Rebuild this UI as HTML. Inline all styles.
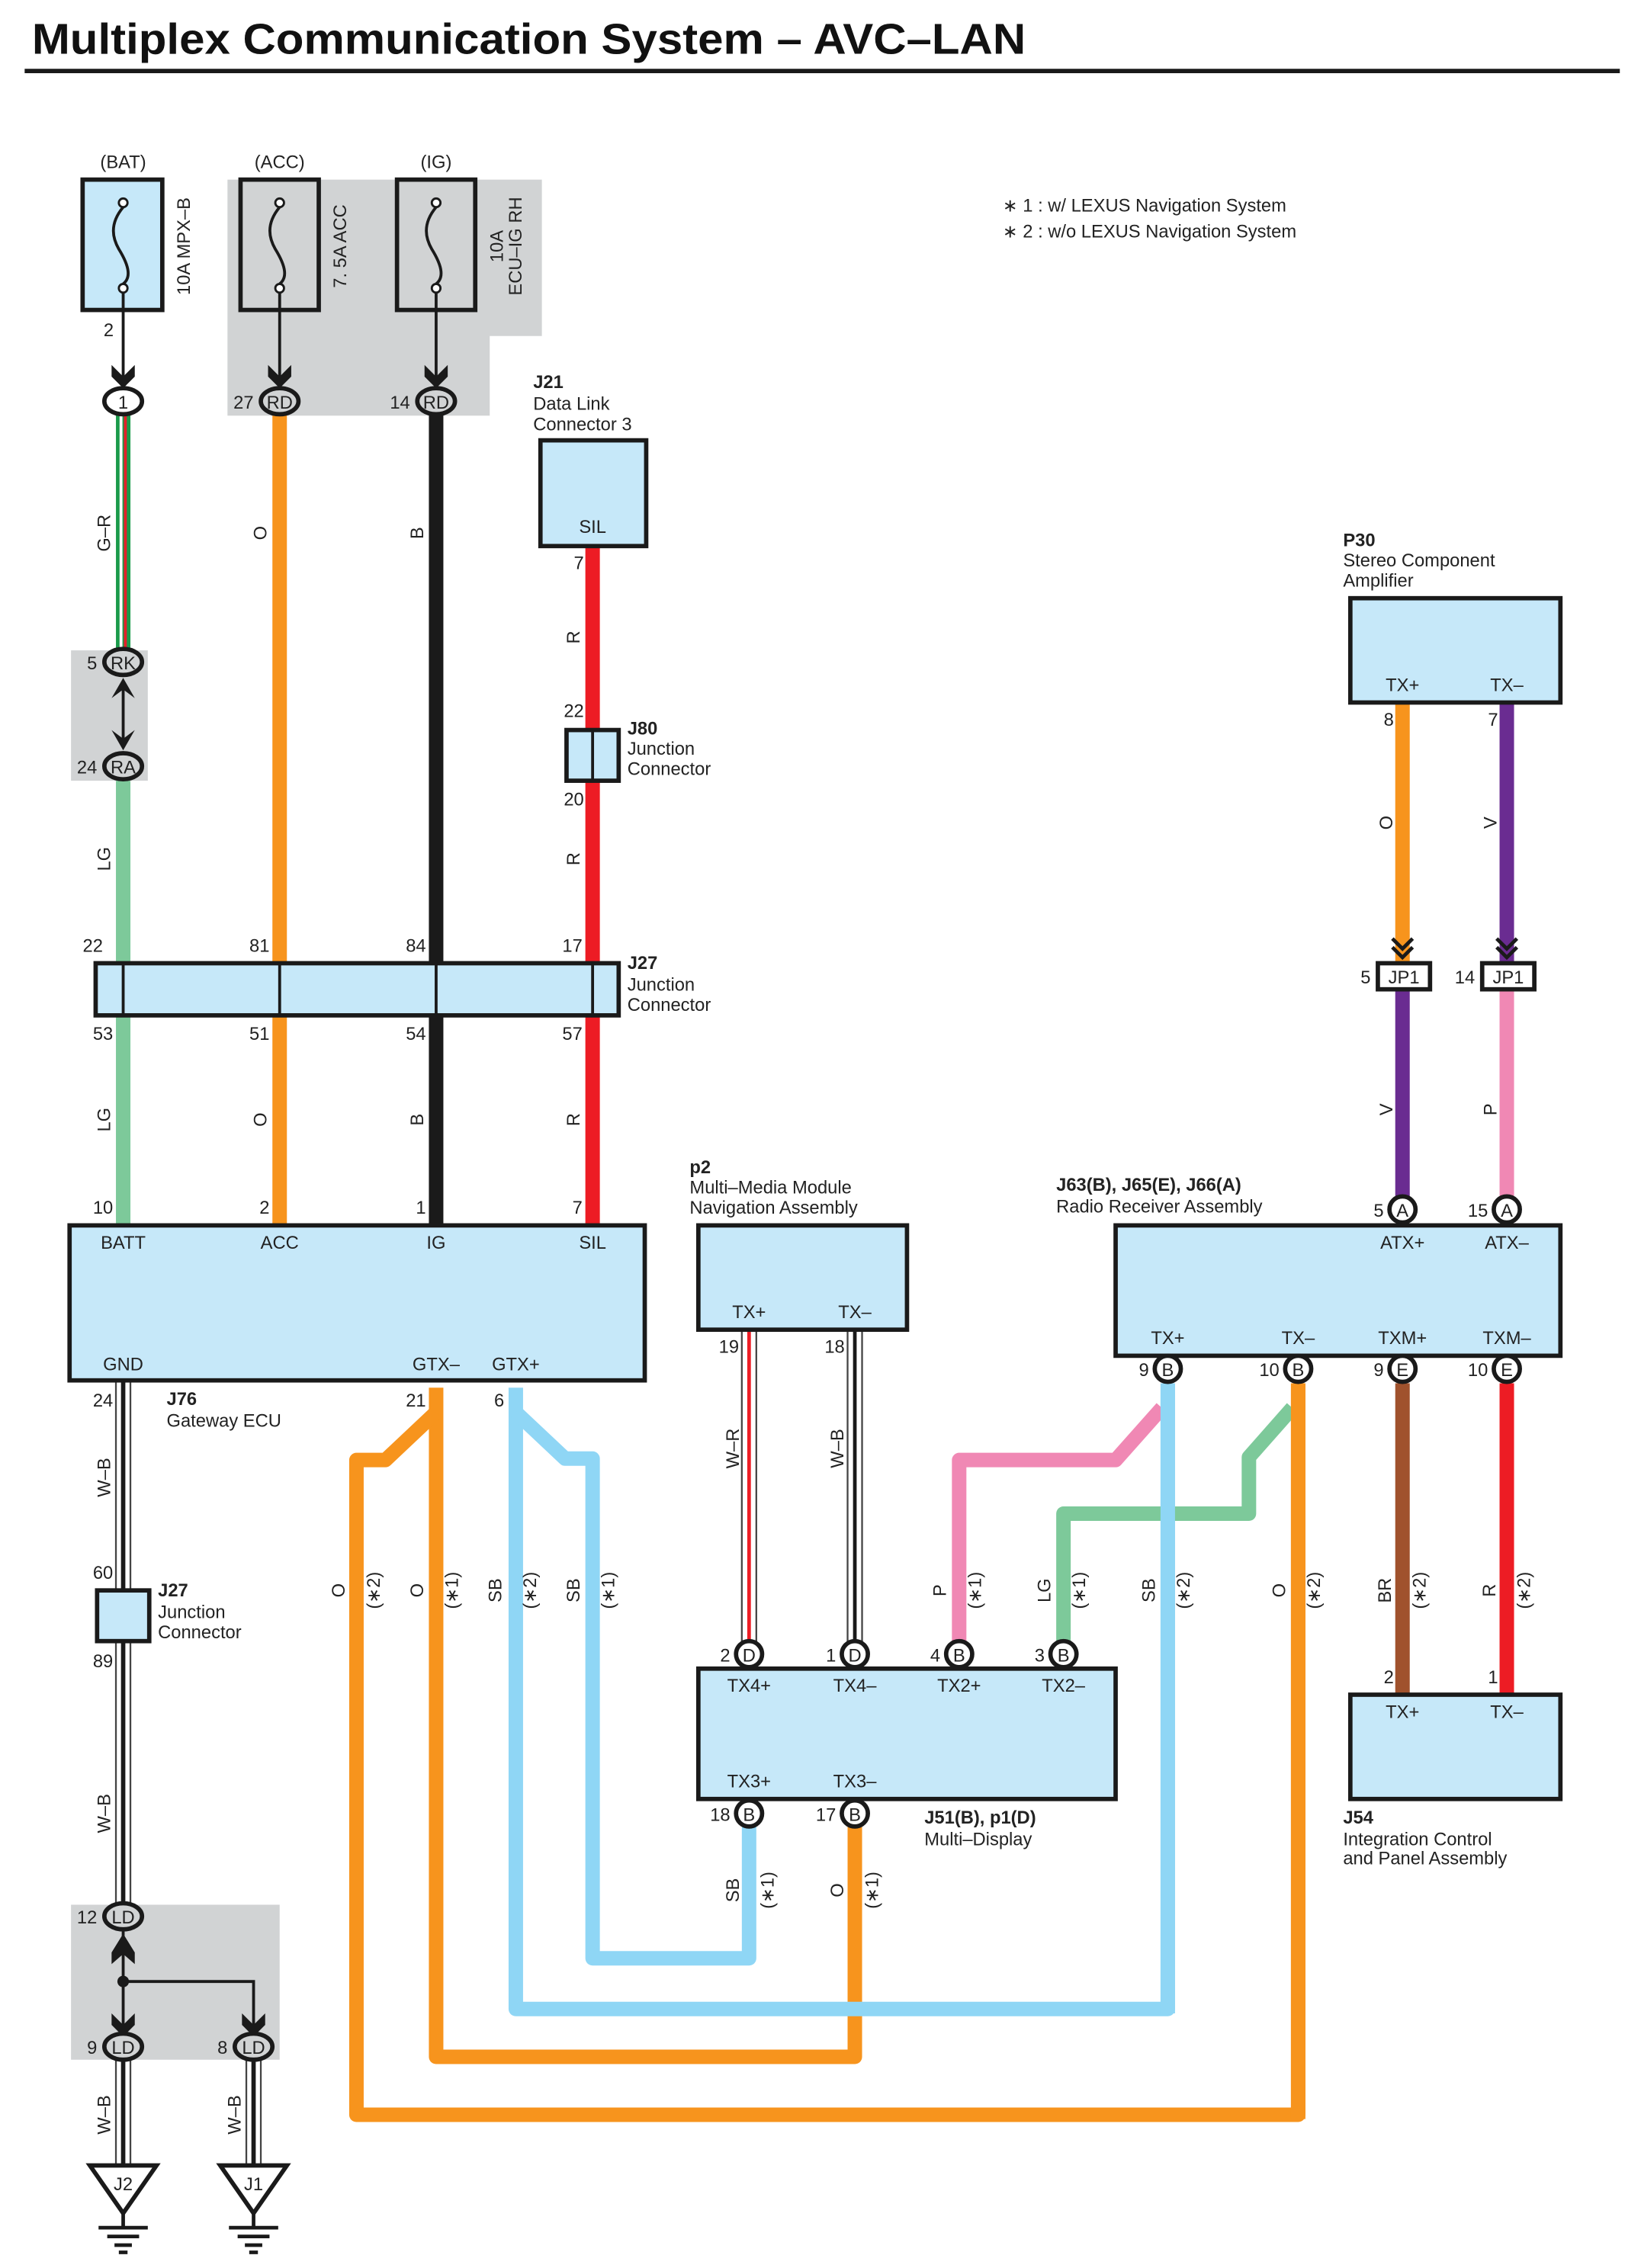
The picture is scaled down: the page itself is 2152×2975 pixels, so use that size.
<!DOCTYPE html>
<html><head><meta charset="utf-8"><style>
html,body{margin:0;padding:0;background:#fff}
svg{display:block}
text{font-family:"Liberation Sans",sans-serif;font-size:12.5px;fill:#222}
.b{font-weight:bold}
.m{text-anchor:middle}
.e{text-anchor:end}
.box{fill:#c6e8f9;stroke:#1a1a1a;stroke-width:3}
.w{fill:none;stroke-width:10;stroke-linejoin:round}
.k{stroke:#1a1a1a;fill:none;stroke-width:2}
</style></head><body>
<svg width="2152" height="2975" viewBox="0 0 1132.6 1565.8" xmlns="http://www.w3.org/2000/svg">
<defs>
<g id="chev"><path d="M-8,-12 L0,-4 L8,-12 L8,-4 L0,4 L-8,-4 Z" fill="#1a1a1a"/></g>
<g id="dchev"><path d="M-7,-12 L0,-5 L7,-12 M-7,-6 L0,1 L7,-6" stroke="#1a1a1a" stroke-width="2.5" fill="none"/></g>
</defs>
<text x="22" y="37" class="b" style="font-size:30px;fill:#111" textLength="686" lengthAdjust="spacingAndGlyphs">Multiplex Communication System – AVC–LAN</text>
<line x1="17" y1="49" x2="1118" y2="49" stroke="#1a1a1a" stroke-width="3"/>
<text x="692" y="146" style="font-size:12.5px">∗ 1 : w/ LEXUS Navigation System</text>
<text x="692" y="164" style="font-size:12.5px">∗ 2 : w/o LEXUS Navigation System</text>

<path d="M157,124 H374 V232 H338 V287 H157 Z" fill="#d1d3d4"/>
<rect x="49" y="449" width="53" height="90" fill="#d1d3d4"/>
<rect x="49" y="1315" width="144" height="107" fill="#d1d3d4"/>

<text x="85" y="116" class="m">(BAT)</text><text x="193" y="116" class="m">(ACC)</text><text x="301" y="116" class="m">(IG)</text>
<rect x="57" y="124" width="55" height="90" class="box"/>
<rect x="166" y="124" width="54" height="90" fill="none" stroke="#1a1a1a" stroke-width="3"/>
<rect x="274" y="124" width="54" height="90" fill="none" stroke="#1a1a1a" stroke-width="3"/>
<g class="k">
<path d="M85,143 C75,155 78,165 82,172 C90,185 90,192 85,196"/>
<path d="M193,143 C183,155 186,165 190,172 C198,185 198,192 193,196"/>
<path d="M301,143 C291,155 294,165 298,172 C306,185 306,192 301,196"/>
<line x1="85" y1="199" x2="85" y2="262"/><line x1="193" y1="199" x2="193" y2="262"/><line x1="301" y1="199" x2="301" y2="262"/>
</g>
<g fill="#fff" stroke="#1a1a1a" stroke-width="1.5"><circle cx="85" cy="140" r="3"/><circle cx="85" cy="199" r="3"/><circle cx="193" cy="140" r="3"/><circle cx="193" cy="199" r="3"/><circle cx="301" cy="140" r="3"/><circle cx="301" cy="199" r="3"/></g>
<use href="#chev" x="85" y="264"/><use href="#chev" x="193" y="264"/><use href="#chev" x="301" y="264"/>
<text transform="translate(131,170) rotate(-90)" class="m">10A MPX–B</text>
<text transform="translate(239,170) rotate(-90)" class="m">7. 5A ACC</text>
<text transform="translate(347,170) rotate(-90)" class="m">10A</text>
<text transform="translate(360,170) rotate(-90)" class="m">ECU–IG RH</text>
<text x="75" y="232" class="m">2</text>

<rect x="80" y="285" width="10" height="166" fill="#1a9a4a"/><rect x="82.5" y="285" width="2" height="166" fill="#fff"/><rect x="85.5" y="285" width="2" height="166" fill="#e5202a"/>
<line x1="85" y1="539" x2="85" y2="846" stroke="#7dc99a" stroke-width="10"/>
<line x1="193" y1="285" x2="193" y2="846" stroke="#f7941d" stroke-width="10"/>
<line x1="301" y1="285" x2="301" y2="846" stroke="#1a1a1a" stroke-width="10"/>
<line x1="409" y1="377" x2="409" y2="846" stroke="#ed1c24" stroke-width="10"/>
<line x1="968" y1="485" x2="968" y2="665" stroke="#f7941d" stroke-width="10"/>
<line x1="1040" y1="485" x2="1040" y2="665" stroke="#6a2c91" stroke-width="10"/>
<line x1="968" y1="683" x2="968" y2="830" stroke="#6a2c91" stroke-width="10"/>
<line x1="1040" y1="683" x2="1040" y2="830" stroke="#f088b4" stroke-width="10"/>
<use href="#dchev" x="968" y="660"/><use href="#dchev" x="1040" y="660"/>

<g stroke="#1a1a1a" stroke-width="3">
<ellipse cx="85" cy="277" rx="13" ry="9" fill="#fff"/>
<ellipse cx="193" cy="277" rx="13" ry="9" fill="#d1d3d4"/>
<ellipse cx="301" cy="277" rx="13" ry="9" fill="#d1d3d4"/>
<ellipse cx="85" cy="457" rx="13" ry="9" fill="#d1d3d4"/>
<ellipse cx="85" cy="529" rx="13" ry="9" fill="#d1d3d4"/>
</g>
<text x="85" y="282" class="m">1</text><text x="193" y="282" class="m">RD</text><text x="301" y="282" class="m">RD</text>
<text x="175" y="282" class="e">27</text><text x="283" y="282" class="e">14</text>
<text x="85" y="462" class="m">RK</text><text x="85" y="534" class="m">RA</text>
<text x="67" y="462" class="e">5</text><text x="67" y="534" class="e">24</text>
<line x1="85" y1="470" x2="85" y2="516" class="k"/>
<path d="M77,482 L85,468 L93,482 L85,476Z M77,504 L85,518 L93,504 L85,510Z" fill="#1a1a1a"/>
<text transform="translate(76,368) rotate(-90)" class="m">G–R</text>
<text transform="translate(76,593) rotate(-90)" class="m">LG</text>
<text transform="translate(184,368) rotate(-90)" class="m">O</text>
<text transform="translate(292,368) rotate(-90)" class="m">B</text>
<text transform="translate(400,440) rotate(-90)" class="m">R</text>
<text transform="translate(400,593) rotate(-90)" class="m">R</text>

<text x="368" y="268" class="b">J21</text><text x="368" y="283">Data Link</text><text x="368" y="297">Connector 3</text>
<rect x="373" y="304" width="73" height="73" class="box"/>
<text x="409" y="368" class="m">SIL</text>
<text x="403" y="393" class="e">7</text><text x="403" y="495" class="e">22</text><text x="403" y="556" class="e">20</text>
<rect x="391" y="504" width="36" height="35" class="box" stroke-width="2.5"/><line x1="409" y1="504" x2="409" y2="539" class="k"/>
<text x="433" y="507" class="b">J80</text><text x="433" y="521">Junction</text><text x="433" y="535">Connector</text>

<text x="71" y="657" class="e">22</text><text x="186" y="657" class="e">81</text><text x="294" y="657" class="e">84</text><text x="402" y="657" class="e">17</text>
<rect x="66" y="665" width="361" height="36" class="box"/>
<g class="k"><line x1="85" y1="665" x2="85" y2="701"/><line x1="193" y1="665" x2="193" y2="701"/><line x1="301" y1="665" x2="301" y2="701"/><line x1="409" y1="665" x2="409" y2="701"/></g>
<text x="433" y="669" class="b">J27</text><text x="433" y="684">Junction</text><text x="433" y="698">Connector</text>
<text x="78" y="718" class="e">53</text><text x="186" y="718" class="e">51</text><text x="294" y="718" class="e">54</text><text x="402" y="718" class="e">57</text>
<text transform="translate(76,773) rotate(-90)" class="m">LG</text>
<text transform="translate(184,773) rotate(-90)" class="m">O</text>
<text transform="translate(292,773) rotate(-90)" class="m">B</text>
<text transform="translate(400,773) rotate(-90)" class="m">R</text>
<text x="78" y="838" class="e">10</text><text x="186" y="838" class="e">2</text><text x="294" y="838" class="e">1</text><text x="402" y="838" class="e">7</text>

<path class="w" stroke="#f7941d" d="M301,958 V1420 H590 V1258"/>
<path class="w" stroke="#f7941d" d="M301,975 L266,1008 H246 V1460 H896 V955"/>
<path class="w" stroke="#8fd6f5" d="M356,958 V1387 H806 V955"/>
<path class="w" stroke="#8fd6f5" d="M356,975 L390,1007 H409 V1352 H517 V1258"/>
<path class="w" stroke="#f088b4" d="M802,972 L770,1008 H662 V1135"/>
<path class="w" stroke="#7dc99a" d="M892,972 L862,1006 V1045 H734 V1135"/>
<line x1="806" y1="955" x2="806" y2="1390" stroke="#8fd6f5" stroke-width="10"/>
<line x1="896" y1="955" x2="896" y2="1463" stroke="#f7941d" stroke-width="10"/>
<line x1="968" y1="955" x2="968" y2="1170" stroke="#a0522d" stroke-width="10"/>
<line x1="1040" y1="955" x2="1040" y2="1170" stroke="#ed1c24" stroke-width="10"/>
<g stroke-width="1.2" stroke="#444">
<line x1="512" y1="918" x2="512" y2="1135"/><line x1="522" y1="918" x2="522" y2="1135"/>
<line x1="585" y1="918" x2="585" y2="1135"/><line x1="595" y1="918" x2="595" y2="1135"/>
<line x1="80" y1="953" x2="80" y2="1315"/><line x1="90" y1="953" x2="90" y2="1315"/>
<line x1="80" y1="1422" x2="80" y2="1495"/><line x1="90" y1="1422" x2="90" y2="1495"/>
<line x1="170" y1="1422" x2="170" y2="1495"/><line x1="180" y1="1422" x2="180" y2="1495"/>
</g>
<line x1="517" y1="918" x2="517" y2="1135" stroke="#ed1c24" stroke-width="2.5"/>
<line x1="590" y1="918" x2="590" y2="1135" stroke="#1a1a1a" stroke-width="2.5"/>
<line x1="85" y1="953" x2="85" y2="1315" stroke="#1a1a1a" stroke-width="3"/>
<line x1="85" y1="1422" x2="85" y2="1495" stroke="#1a1a1a" stroke-width="3"/>
<line x1="175" y1="1422" x2="175" y2="1495" stroke="#1a1a1a" stroke-width="3"/>

<rect x="48" y="846" width="397" height="107" class="box"/>
<text x="85" y="862" class="m">BATT</text><text x="193" y="862" class="m">ACC</text><text x="301" y="862" class="m">IG</text><text x="409" y="862" class="m">SIL</text>
<text x="85" y="946" class="m">GND</text><text x="301" y="946" class="m">GTX–</text><text x="356" y="946" class="m">GTX+</text>
<text x="78" y="971" class="e">24</text><text x="294" y="971" class="e">21</text><text x="348" y="971" class="e">6</text>
<text x="115" y="970" class="b">J76</text><text x="115" y="985">Gateway ECU</text>
<text transform="translate(76,1020) rotate(-90)" class="m">W–B</text>
<text x="78" y="1090" class="e">60</text><text x="78" y="1151" class="e">89</text>
<rect x="67" y="1098" width="36" height="35" class="box" stroke-width="2.5"/>
<text x="109" y="1102" class="b">J27</text><text x="109" y="1117">Junction</text><text x="109" y="1131">Connector</text>
<text transform="translate(76,1252) rotate(-90)" class="m">W–B</text>

<line x1="85" y1="1333" x2="85" y2="1403" class="k"/>
<path d="M85,1368 H175 V1403" class="k"/>
<circle cx="85" cy="1368" r="4" fill="#1a1a1a"/>
<path d="M77,1348 L85,1335 L93,1348 L93,1356 L85,1349 L77,1356Z" fill="#1a1a1a"/>
<use href="#chev" x="85" y="1402"/><use href="#chev" x="175" y="1402"/>
<g stroke="#1a1a1a" stroke-width="3" fill="#d1d3d4">
<ellipse cx="85" cy="1323" rx="13" ry="9"/><ellipse cx="85" cy="1413" rx="13" ry="9"/><ellipse cx="175" cy="1413" rx="13" ry="9"/></g>
<text x="85" y="1328" class="m">LD</text><text x="85" y="1418" class="m">LD</text><text x="175" y="1418" class="m">LD</text>
<text x="67" y="1328" class="e">12</text><text x="67" y="1418" class="e">9</text><text x="157" y="1418" class="e">8</text>
<text transform="translate(76,1460) rotate(-90)" class="m">W–B</text>
<text transform="translate(166,1460) rotate(-90)" class="m">W–B</text>
<g stroke="#1a1a1a" stroke-width="3" fill="#fff" stroke-linejoin="miter">
<path d="M62,1495 H108 L85,1528 Z"/><path d="M152,1495 H198 L175,1528 Z"/></g>
<text x="85" y="1512" class="m">J2</text><text x="175" y="1512" class="m">J1</text>
<g stroke="#1a1a1a" stroke-width="2.5">
<line x1="85" y1="1528" x2="85" y2="1538"/><line x1="68" y1="1538" x2="102" y2="1538"/><line x1="74" y1="1544" x2="96" y2="1544"/><line x1="79" y1="1550" x2="91" y2="1550"/><line x1="82" y1="1555" x2="88" y2="1555"/>
<line x1="175" y1="1528" x2="175" y2="1538"/><line x1="158" y1="1538" x2="192" y2="1538"/><line x1="164" y1="1544" x2="186" y2="1544"/><line x1="169" y1="1550" x2="181" y2="1550"/><line x1="172" y1="1555" x2="178" y2="1555"/>
</g>

<text x="476" y="810" class="b">p2</text><text x="476" y="824">Multi–Media Module</text><text x="476" y="838">Navigation Assembly</text>
<rect x="482" y="846" width="144" height="72" class="box"/>
<text x="517" y="910" class="m">TX+</text><text x="590" y="910" class="m">TX–</text>
<text x="510" y="934" class="e">19</text><text x="583" y="934" class="e">18</text>
<text transform="translate(510,1000) rotate(-90)" class="m">W–R</text>
<text transform="translate(582,1000) rotate(-90)" class="m">W–B</text>

<text x="927" y="377" class="b">P30</text><text x="927" y="391">Stereo Component</text><text x="927" y="405">Amplifier</text>
<rect x="932" y="413" width="145" height="72" class="box"/>
<text x="968" y="477" class="m">TX+</text><text x="1040" y="477" class="m">TX–</text>
<text x="962" y="501" class="e">8</text><text x="1034" y="501" class="e">7</text>
<text transform="translate(961,568) rotate(-90)" class="m">O</text>
<text transform="translate(1033,568) rotate(-90)" class="m">V</text>
<rect x="951" y="665" width="36" height="18" fill="#fff" stroke="#1a1a1a" stroke-width="3"/>
<rect x="1023" y="665" width="36" height="18" fill="#fff" stroke="#1a1a1a" stroke-width="3"/>
<text x="969" y="679" class="m">JP1</text><text x="1041" y="679" class="m">JP1</text>
<text x="946" y="679" class="e">5</text><text x="1018" y="679" class="e">14</text>
<text transform="translate(961,766) rotate(-90)" class="m">V</text>
<text transform="translate(1033,766) rotate(-90)" class="m">P</text>

<text x="729" y="822" class="b">J63(B), J65(E), J66(A)</text><text x="729" y="837">Radio Receiver Assembly</text>
<rect x="770" y="846" width="307" height="90" class="box"/>
<text x="968" y="862" class="m">ATX+</text><text x="1040" y="862" class="m">ATX–</text>
<text x="806" y="928" class="m">TX+</text><text x="896" y="928" class="m">TX–</text><text x="968" y="928" class="m">TXM+</text><text x="1040" y="928" class="m">TXM–</text>

<rect x="482" y="1152" width="288" height="90" class="box"/>
<text x="517" y="1168" class="m">TX4+</text><text x="590" y="1168" class="m">TX4–</text><text x="662" y="1168" class="m">TX2+</text><text x="734" y="1168" class="m">TX2–</text>
<text x="517" y="1234" class="m">TX3+</text><text x="590" y="1234" class="m">TX3–</text>
<text x="638" y="1259" class="b">J51(B), p1(D)</text><text x="638" y="1274">Multi–Display</text>

<rect x="932" y="1170" width="145" height="72" class="box"/>
<text x="968" y="1186" class="m">TX+</text><text x="1040" y="1186" class="m">TX–</text>
<text x="962" y="1162" class="e">2</text><text x="1034" y="1162" class="e">1</text>
<text x="927" y="1259" class="b">J54</text><text x="927" y="1274">Integration Control</text><text x="927" y="1287">and Panel Assembly</text>

<g stroke="#1a1a1a" stroke-width="3" fill="#fff">
<circle cx="968" cy="835" r="9"/><circle cx="1040" cy="835" r="9"/>
<circle cx="806" cy="945" r="9"/><circle cx="896" cy="945" r="9"/><circle cx="968" cy="945" r="9"/><circle cx="1040" cy="945" r="9"/>
<circle cx="517" cy="1142" r="9"/><circle cx="590" cy="1142" r="9"/><circle cx="662" cy="1142" r="9"/><circle cx="734" cy="1142" r="9"/>
<circle cx="517" cy="1252" r="9"/><circle cx="590" cy="1252" r="9"/>
</g>
<text x="968" y="840" class="m">A</text><text x="1040" y="840" class="m">A</text>
<text x="806" y="950" class="m">B</text><text x="896" y="950" class="m">B</text><text x="968" y="950" class="m">E</text><text x="1040" y="950" class="m">E</text>
<text x="517" y="1147" class="m">D</text><text x="590" y="1147" class="m">D</text><text x="662" y="1147" class="m">B</text><text x="734" y="1147" class="m">B</text>
<text x="517" y="1257" class="m">B</text><text x="590" y="1257" class="m">B</text>
<text x="955" y="840" class="e">5</text><text x="1027" y="840" class="e">15</text>
<text x="793" y="950" class="e">9</text><text x="883" y="950" class="e">10</text><text x="955" y="950" class="e">9</text><text x="1027" y="950" class="e">10</text>
<text x="504" y="1147" class="e">2</text><text x="577" y="1147" class="e">1</text><text x="649" y="1147" class="e">4</text><text x="721" y="1147" class="e">3</text>
<text x="504" y="1257" class="e">18</text><text x="577" y="1257" class="e">17</text>

<text transform="translate(238,1098) rotate(-90)" class="m">O</text><text transform="translate(262,1098) rotate(-90)" class="m">(∗2)</text>
<text transform="translate(292,1098) rotate(-90)" class="m">O</text><text transform="translate(316,1098) rotate(-90)" class="m">(∗1)</text>
<text transform="translate(346,1098) rotate(-90)" class="m">SB</text><text transform="translate(370,1098) rotate(-90)" class="m">(∗2)</text>
<text transform="translate(400,1098) rotate(-90)" class="m">SB</text><text transform="translate(424,1098) rotate(-90)" class="m">(∗1)</text>
<text transform="translate(653,1098) rotate(-90)" class="m">P</text><text transform="translate(677,1098) rotate(-90)" class="m">(∗1)</text>
<text transform="translate(725,1098) rotate(-90)" class="m">LG</text><text transform="translate(749,1098) rotate(-90)" class="m">(∗1)</text>
<text transform="translate(797,1098) rotate(-90)" class="m">SB</text><text transform="translate(821,1098) rotate(-90)" class="m">(∗2)</text>
<text transform="translate(887,1098) rotate(-90)" class="m">O</text><text transform="translate(911,1098) rotate(-90)" class="m">(∗2)</text>
<text transform="translate(960,1098) rotate(-90)" class="m">BR</text><text transform="translate(984,1098) rotate(-90)" class="m">(∗2)</text>
<text transform="translate(1032,1098) rotate(-90)" class="m">R</text><text transform="translate(1056,1098) rotate(-90)" class="m">(∗2)</text>
<text transform="translate(510,1305) rotate(-90)" class="m">SB</text><text transform="translate(534,1305) rotate(-90)" class="m">(∗1)</text>
<text transform="translate(582,1305) rotate(-90)" class="m">O</text><text transform="translate(606,1305) rotate(-90)" class="m">(∗1)</text>
</svg>
</body></html>
